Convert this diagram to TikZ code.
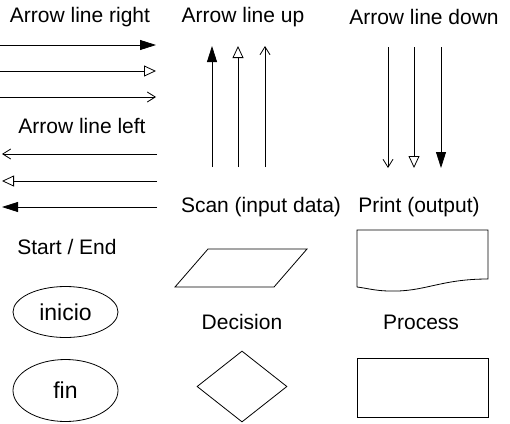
\documentclass[tikz,border=0pt]{standalone}
\usepackage{fontspec}
\setmainfont{Liberation Sans}
\usepackage{tikz}
\usetikzlibrary{arrows.meta,shapes.geometric}
\tikzset{arrfill/.style={-{Triangle[length=16pt,width=10pt]}}}
\tikzset{arropen/.style={-{Triangle[open,length=12pt,width=11pt]}}}
\tikzset{arrbarb/.style={-{Straight Barb[length=8pt,width=10pt]}}}

\begin{document}
\begin{tikzpicture}[x=1pt,y=-1pt,line width=0.8pt]
	% Default action for each node
	\tikzstyle{every node}=[font=\fontsize{21}{23}\selectfont, inner sep=0pt];
	\tikzstyle{shapebox}=[draw, line width=0.8pt];
	\useasboundingbox (0,0) rectangle (510,423);

	% Titles
	\node (tright) at (80,17) {Arrow line right};
	\node (tup) at (243,17) {Arrow line up};
	\node (tdown) at (424,17) {Arrow line down};
	\node (tleft) at (82,126) {Arrow line left};
	\node (tscan) at (261,207) {Scan (input data)};
	\node (tprint) at (419,207) {Print (output)};
	\node (tstart) at (67,247) {Start / End};
	\node (tdecision) at (242,322) {Decision};
	\node (tprocess) at (421,322) {Process};

	% Horizontals
	\coordinate (r1w) at (0,45);	\coordinate (r1e) at (156,45);
	\coordinate (r2w) at (0,71);	\coordinate (r2e) at (156,71);
	\coordinate (r3w) at (0,97);	\coordinate (r3e) at (156,97);
	\coordinate (l1w) at (2,154);	\coordinate (l1e) at (157,154);
	\coordinate (l2w) at (2,181);	\coordinate (l2e) at (157,181);
	\coordinate (l3w) at (2,207);	\coordinate (l3e) at (157,207);

	\draw[arrfill] (r1w) -- (r1e);
	\draw[arropen] (r2w) -- (r2e);
	\draw[arrbarb] (r3w) -- (r3e);

	\draw[arrbarb] (l1e) -- (l1w);
	\draw[arropen] (l2e) -- (l2w);
	\draw[arrfill] (l3e) -- (l3w);

	% Verticals
	\coordinate (u1s) at (212,167);	\coordinate (u1n) at (212,46);
	\coordinate (u2s) at (238,167);	\coordinate (u2n) at (238,46);
	\coordinate (u3s) at (265,167);	\coordinate (u3n) at (265,46);
	\coordinate (d1n) at (388,47);	\coordinate (d1s) at (388,168);
	\coordinate (d2n) at (414,47);	\coordinate (d2s) at (414,168);
	\coordinate (d3n) at (441,47);	\coordinate (d3s) at (441,168);

	\draw[arrfill] (u1s) -- (u1n);
	\draw[arropen] (u2s) -- (u2n);
	\draw[arrbarb] (u3s) -- (u3n);

	\draw[arrbarb] (d1n) -- (d1s);
	\draw[arropen] (d2n) -- (d2s);
	\draw[arrfill] (d3n) -- (d3s);

	% Start / End
	\node[shapebox, ellipse, minimum width=105pt, minimum height=51pt, font=\fontsize{23}{26}\selectfont] (inicio) at (65.5,312) {inicio};
	\node[shapebox, ellipse, minimum width=105pt, minimum height=62pt, font=\fontsize{23}{26}\selectfont] (fin) at (65.5,390.5) {fin};

	% Scan
	\coordinate (scansw) at (175,287);	\coordinate (scannw) at (208,249);
	\coordinate (scanne) at (307,249);	\coordinate (scanse) at (274,287);
	\draw (scansw) -- (scannw) -- (scanne) -- (scanse) -- cycle;

	% Print
	\coordinate (printsw) at (357,287);	\coordinate (printnw) at (357,230);
	\coordinate (printne) at (488,230);	\coordinate (printse) at (488,279);
	\coordinate (printlow) at (390,291);
	\draw (printsw) -- (printnw) -- (printne) -- (printse)
		.. controls (440,279) and (425,292) .. (printlow)
		.. controls (376,291) and (366,288) .. (printsw);

	% Decision and process
	\node[shapebox, diamond, minimum width=90pt, minimum height=71pt] (decision) at (242,386.5) {};
	\node[shapebox, rectangle, minimum width=131pt, minimum height=59pt] (process) at (422.5,387.5) {};
\end{tikzpicture}
\end{document}
